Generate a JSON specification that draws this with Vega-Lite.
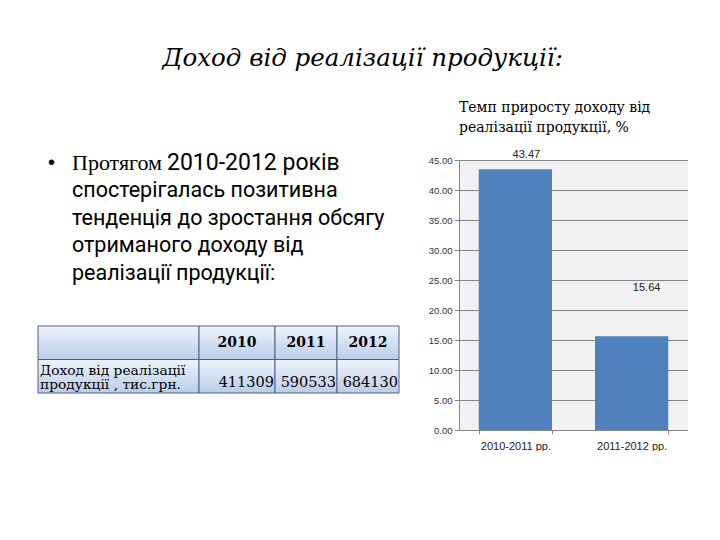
{
  "$schema": "https://vega.github.io/schema/vega-lite/v6.json",
  "background": "white",
  "padding": {"left": 37, "top": 45, "right": 0, "bottom": 0},
  "config": {"view": {"stroke": null}},
  "title": {"text": "Доход від реалізації продукції:", "font": "DejaVu Serif", "fontStyle": "italic", "fontWeight": "normal", "fontSize": 24.5, "color": "#000000", "anchor": "middle", "offset": 30},
  "datasets": {
    "growth": [
      {"period": "2010-2011 рр.", "rate": 43.47},
      {"period": "2011-2012 рр.", "rate": 15.64}
    ],
    "cells": [
      {"year": "2010", "row": "header"},
      {"year": "2011", "row": "header"},
      {"year": "2012", "row": "header"},
      {"year": "2010", "row": "value", "value": 411309},
      {"year": "2011", "row": "value", "value": 590533},
      {"year": "2012", "row": "value", "value": 684130}
    ],
    "rowhead": [
      {"col": "label", "row": "header", "label": ""},
      {"col": "label", "row": "value", "label": "Доход  від реалізації\nпродукції , тис.грн."}
    ],
    "bullet": [
      {"line": 1, "part": "lead", "text": "Протягом"},
      {"line": 1, "part": "rest", "text": "2010-2012 років"},
      {"line": 2, "part": "body", "text": "спостерігалась позитивна"},
      {"line": 3, "part": "body", "text": "тенденція до зростання обсягу"},
      {"line": 4, "part": "body", "text": "отриманого доходу від"},
      {"line": 5, "part": "body", "text": "реалізації продукції:"}
    ]
  },
  "spacing": 28,
  "hconcat": [
    {
      "bounds": "flush",
      "spacing": 8,
      "vconcat": [
        {
          "width": 362,
          "height": 158,
          "data": {"name": "bullet"},
          "encoding": {
            "x": {"datum": 0, "type": "quantitative", "scale": {"domain": [0, 1]}, "axis": null},
            "y": {"field": "line", "type": "quantitative", "scale": {"domain": [0.892, 6.575], "reverse": true, "nice": false, "zero": false}, "axis": null}
          },
          "layer": [
            {
              "transform": [{"filter": "datum.part === 'lead'"}],
              "mark": {"type": "text", "text": "•", "align": "left", "baseline": "middle", "dx": 10, "font": "Liberation Sans", "fontSize": 20, "color": "#000000"}
            },
            {
              "transform": [{"filter": "datum.part === 'lead'"}],
              "mark": {"type": "text", "align": "left", "baseline": "middle", "dx": 34, "font": "Liberation Serif", "fontSize": 22, "color": "#000000"},
              "encoding": {"text": {"field": "text"}}
            },
            {
              "transform": [{"filter": "datum.part === 'rest'"}],
              "mark": {"type": "text", "align": "left", "baseline": "middle", "dx": 129, "font": "Roboto", "fontSize": 23, "color": "#000000"},
              "encoding": {"text": {"field": "text"}}
            },
            {
              "transform": [{"filter": "datum.part === 'body'"}],
              "mark": {"type": "text", "align": "left", "baseline": "middle", "dx": 34, "font": "Roboto", "fontSize": 21.5, "color": "#000000"},
              "encoding": {"text": {"field": "text"}}
            }
          ]
        },
        {
          "spacing": 0,
          "bounds": "flush",
          "hconcat": [
            {
              "width": 161,
              "height": 67,
              "data": {"name": "rowhead"},
              "encoding": {
                "x": {"field": "col", "type": "nominal", "axis": null, "scale": {"paddingInner": 0, "paddingOuter": 0}},
                "y": {"field": "row", "type": "nominal", "axis": null, "sort": ["header", "value"], "scale": {"paddingInner": 0, "paddingOuter": 0}}
              },
              "layer": [
                {
                  "mark": {"type": "rect", "stroke": "#4f6180", "strokeWidth": 1,
                    "fill": {"gradient": "linear", "x1": 0, "y1": 0, "x2": 0, "y2": 1, "stops": [{"offset": 0, "color": "#eef3fa"}, {"offset": 1, "color": "#b9cdea"}]}}
                },
                {
                  "transform": [{"filter": "datum.row === 'value'"}],
                  "mark": {"type": "text", "align": "left", "baseline": "top", "lineBreak": "\n", "lineHeight": 14.5, "dx": 2, "dy": 4, "font": "DejaVu Serif", "fontSize": 13.8, "color": "#000000"},
                  "encoding": {
                    "text": {"field": "label"},
                    "x": {"field": "col", "type": "nominal", "bandPosition": 0, "axis": null},
                    "y": {"field": "row", "type": "nominal", "bandPosition": 0, "axis": null, "sort": ["header", "value"]}
                  }
                }
              ]
            },
            {
              "width": 76,
              "height": 67,
              "data": {"name": "cells"},
              "transform": [{"filter": "datum.year === '2010'"}],
              "encoding": {
                "x": {"field": "year", "type": "nominal", "axis": null, "scale": {"paddingInner": 0, "paddingOuter": 0}},
                "y": {"field": "row", "type": "nominal", "axis": null, "sort": ["header", "value"], "scale": {"paddingInner": 0, "paddingOuter": 0}}
              },
              "layer": [
                {
                  "mark": {"type": "rect", "stroke": "#4f6180", "strokeWidth": 1,
                    "fill": {"gradient": "linear", "x1": 0, "y1": 0, "x2": 0, "y2": 1, "stops": [{"offset": 0, "color": "#eef3fa"}, {"offset": 1, "color": "#b9cdea"}]}}
                },
                {
                  "transform": [{"filter": "datum.row === 'header'"}],
                  "mark": {"type": "text", "align": "center", "baseline": "middle", "font": "DejaVu Serif", "fontWeight": "bold", "fontSize": 14, "color": "#000000"},
                  "encoding": {"text": {"field": "year"}}
                },
                {
                  "transform": [{"filter": "datum.row === 'value'"}],
                  "mark": {"type": "text", "align": "right", "baseline": "bottom", "dx": -1, "dy": -3, "font": "DejaVu Serif", "fontSize": 14.5, "color": "#000000"},
                  "encoding": {
                    "text": {"field": "value", "type": "quantitative", "format": "d"},
                    "x": {"field": "year", "type": "nominal", "bandPosition": 1, "axis": null},
                    "y": {"field": "row", "type": "nominal", "bandPosition": 1, "axis": null, "sort": ["header", "value"]}
                  }
                }
              ]
            },
            {
              "width": 62,
              "height": 67,
              "data": {"name": "cells"},
              "transform": [{"filter": "datum.year === '2011'"}],
              "encoding": {
                "x": {"field": "year", "type": "nominal", "axis": null, "scale": {"paddingInner": 0, "paddingOuter": 0}},
                "y": {"field": "row", "type": "nominal", "axis": null, "sort": ["header", "value"], "scale": {"paddingInner": 0, "paddingOuter": 0}}
              },
              "layer": [
                {
                  "mark": {"type": "rect", "stroke": "#4f6180", "strokeWidth": 1,
                    "fill": {"gradient": "linear", "x1": 0, "y1": 0, "x2": 0, "y2": 1, "stops": [{"offset": 0, "color": "#eef3fa"}, {"offset": 1, "color": "#b9cdea"}]}}
                },
                {
                  "transform": [{"filter": "datum.row === 'header'"}],
                  "mark": {"type": "text", "align": "center", "baseline": "middle", "font": "DejaVu Serif", "fontWeight": "bold", "fontSize": 14, "color": "#000000"},
                  "encoding": {"text": {"field": "year"}}
                },
                {
                  "transform": [{"filter": "datum.row === 'value'"}],
                  "mark": {"type": "text", "align": "right", "baseline": "bottom", "dx": -1, "dy": -3, "font": "DejaVu Serif", "fontSize": 14.5, "color": "#000000"},
                  "encoding": {
                    "text": {"field": "value", "type": "quantitative", "format": "d"},
                    "x": {"field": "year", "type": "nominal", "bandPosition": 1, "axis": null},
                    "y": {"field": "row", "type": "nominal", "bandPosition": 1, "axis": null, "sort": ["header", "value"]}
                  }
                }
              ]
            },
            {
              "width": 62,
              "height": 67,
              "data": {"name": "cells"},
              "transform": [{"filter": "datum.year === '2012'"}],
              "encoding": {
                "x": {"field": "year", "type": "nominal", "axis": null, "scale": {"paddingInner": 0, "paddingOuter": 0}},
                "y": {"field": "row", "type": "nominal", "axis": null, "sort": ["header", "value"], "scale": {"paddingInner": 0, "paddingOuter": 0}}
              },
              "layer": [
                {
                  "mark": {"type": "rect", "stroke": "#4f6180", "strokeWidth": 1,
                    "fill": {"gradient": "linear", "x1": 0, "y1": 0, "x2": 0, "y2": 1, "stops": [{"offset": 0, "color": "#eef3fa"}, {"offset": 1, "color": "#b9cdea"}]}}
                },
                {
                  "transform": [{"filter": "datum.row === 'header'"}],
                  "mark": {"type": "text", "align": "center", "baseline": "middle", "font": "DejaVu Serif", "fontWeight": "bold", "fontSize": 14, "color": "#000000"},
                  "encoding": {"text": {"field": "year"}}
                },
                {
                  "transform": [{"filter": "datum.row === 'value'"}],
                  "mark": {"type": "text", "align": "right", "baseline": "bottom", "dx": -1, "dy": -3, "font": "DejaVu Serif", "fontSize": 14.5, "color": "#000000"},
                  "encoding": {
                    "text": {"field": "value", "type": "quantitative", "format": "d"},
                    "x": {"field": "year", "type": "nominal", "bandPosition": 1, "axis": null},
                    "y": {"field": "row", "type": "nominal", "bandPosition": 1, "axis": null, "sort": ["header", "value"]}
                  }
                }
              ]
            }
          ]
        }
      ]
    },
    {
      "width": 229,
      "height": 270,
      "view": {"fill": "#f2f2f2", "stroke": null},
      "title": {"text": ["Темп приросту доходу від", "реалізації продукції, %"], "anchor": "start", "frame": "group", "font": "DejaVu Serif", "fontSize": 14, "fontWeight": "normal", "lineHeight": 20, "color": "#000000", "offset": 14},
      "data": {"name": "growth"},
      "encoding": {
        "x": {"field": "period", "type": "nominal", "scale": {"paddingInner": 0.37, "paddingOuter": 0.17},
          "axis": {"title": null, "labelAngle": 0, "labelFont": "Liberation Sans", "labelFontSize": 11, "labelColor": "#222222", "tickBand": "extent", "tickSize": 4, "tickColor": "#868686", "domainColor": "#868686", "labelPadding": 6, "grid": false}},
        "y": {"field": "rate", "type": "quantitative", "scale": {"domain": [0, 45], "nice": false},
          "axis": {"title": null, "values": [0, 5, 10, 15, 20, 25, 30, 35, 40, 45], "format": ".2f", "labelFont": "Liberation Sans", "labelFontSize": 9.5, "labelColor": "#333333", "tickSize": 5, "tickColor": "#868686", "domainColor": "#868686", "gridColor": "#868686", "gridOpacity": 1, "labelPadding": 2}}
      },
      "layer": [
        {"mark": {"type": "bar", "color": "#4f81bd"}},
        {
          "transform": [{"filter": "datum.rate > 40"}],
          "mark": {"type": "text", "dx": 11, "dy": -14, "baseline": "middle", "font": "Liberation Sans", "fontSize": 11, "color": "#222222"},
          "encoding": {"text": {"field": "rate", "type": "quantitative", "format": ".2f"}}
        },
        {
          "transform": [{"filter": "datum.rate < 40"}],
          "mark": {"type": "text", "dx": 15, "dy": -48, "baseline": "middle", "font": "Liberation Sans", "fontSize": 11, "color": "#222222"},
          "encoding": {"text": {"field": "rate", "type": "quantitative", "format": ".2f"}}
        }
      ]
    }
  ]
}
